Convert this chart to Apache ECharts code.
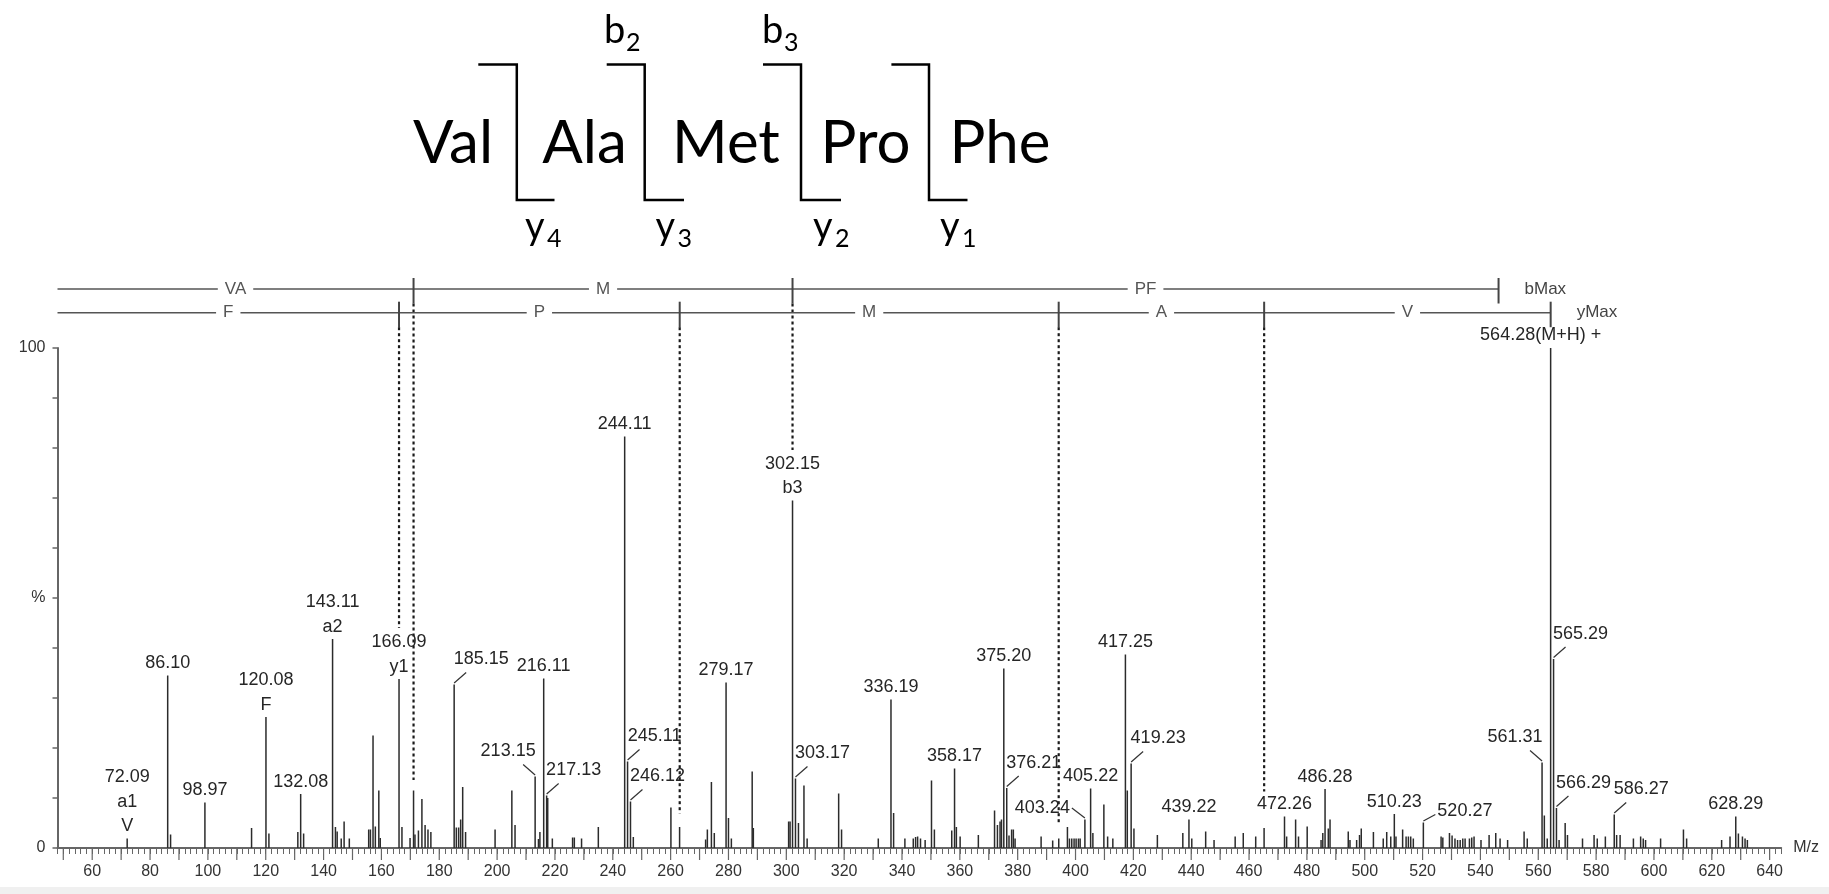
<!DOCTYPE html>
<html><head><meta charset="utf-8">
<script src="https://cdn.jsdelivr.net/npm/echarts@6/dist/echarts.min.js"></script>
<style>html,body{margin:0;padding:0;background:#fff}#c{width:1829px;height:894px}</style>
</head><body><div id="c"></div>
<script>
// ---------------- data ----------------
const peakMz = [
72.09, 86.10, 87.1, 98.97, 115.1, 120.08, 121.1, 131.1, 132.08, 133.1,
143.11, 144.1, 144.7, 146.1, 147.1, 148.9, 155.6, 156.2, 157.1, 157.9,
159.1, 159.6, 166.09, 167.1, 169.9, 171.11, 171.6, 172.8, 174.0, 175.1,
176.1, 177.1, 185.15, 185.9, 186.7, 187.4, 188.1, 189.1, 199.3, 205.1,
206.2, 213.15, 214.3, 214.8, 216.11, 217.13, 217.5, 219.1, 226.1, 226.7,
229.2, 235.0, 244.11, 245.11, 246.12, 247.1, 260.1, 263.1, 272.1, 272.7,
274.1, 275.1, 279.17, 280.0, 281.0, 288.2, 288.6, 300.8, 301.3, 302.15,
303.17, 304.2, 306.1, 307.2, 318.1, 319.1, 331.8, 336.19, 337.1, 341.0,
343.9, 344.7, 345.4, 346.4, 348.0, 350.2, 351.2, 357.2, 358.17, 358.8,
360.1, 366.4, 372.0, 373.0, 373.9, 374.4, 375.20, 376.21, 377.0, 377.9,
378.5, 379.1, 388.1, 392.1, 394.2, 397.2, 397.9, 398.7, 399.5, 400.2,
401.0, 401.6, 403.24, 405.22, 406.0, 409.8, 411.1, 412.9, 417.25, 417.9,
419.23, 420.2, 428.3, 437.1, 439.22, 440.2, 445.0, 447.9, 455.2, 458.0,
462.3, 465.2, 472.26, 473.0, 476.1, 477.1, 480.1, 484.9, 485.5, 486.28,
487.4, 488.0, 494.3, 494.9, 497.2, 498.2, 498.8, 503.0, 506.4, 507.6,
509.0, 510.23, 510.8, 513.1, 514.3, 515.1, 515.9, 516.8, 520.27, 526.4,
527.0, 529.3, 530.2, 531.2, 532.1, 533.0, 533.9, 534.7, 536.2, 537.0,
537.8, 540.2, 543.0, 545.3, 546.8, 549.4, 555.1, 556.2, 561.31, 562.1,
563.1, 564.28, 565.29, 566.29, 567.2, 569.3, 570.1, 575.3, 579.3, 580.4,
583.2, 586.27, 587.1, 588.3, 592.9, 595.4, 596.3, 597.1, 602.3, 610.2,
611.3, 623.4, 626.3, 628.29, 629.2, 630.6, 631.5, 632.3
];
const peakIntensity = [
1.9, 34.5, 2.7, 9.1, 4.0, 26.2, 2.9, 3.2, 10.8, 2.9,
41.8, 4.2, 3.3, 1.9, 5.3, 1.9, 3.7, 3.7, 22.5, 4.3,
11.5, 2.0, 33.8, 4.2, 2.0, 11.5, 2.7, 3.5, 9.8, 4.6,
3.7, 3.2, 32.7, 4.1, 4.1, 5.7, 12.2, 3.2, 3.7, 11.5,
4.6, 14.3, 1.8, 3.2, 33.9, 10.5, 10.0, 1.9, 2.1, 2.1,
1.9, 4.2, 82.3, 17.3, 9.3, 2.2, 8.1, 4.2, 1.7, 3.7,
13.2, 3.0, 33.1, 6.0, 1.9, 15.3, 4.0, 5.3, 5.3, 69.5,
13.9, 5.0, 12.5, 1.9, 10.9, 3.7, 1.9, 29.7, 7.0, 1.9,
1.9, 2.2, 2.3, 1.9, 1.6, 13.5, 3.7, 3.5, 15.9, 4.2,
2.3, 2.6, 7.5, 4.6, 5.3, 5.7, 35.9, 12.0, 2.5, 3.7,
3.7, 1.9, 2.3, 1.5, 1.9, 4.2, 1.9, 1.9, 1.9, 1.9,
1.9, 1.9, 5.7, 11.9, 3.0, 8.7, 2.3, 1.9, 38.7, 11.5,
16.9, 3.9, 2.6, 3.0, 5.7, 1.9, 3.3, 1.6, 2.3, 3.0,
2.3, 4.0, 6.3, 2.3, 5.7, 2.3, 4.3, 1.6, 3.0, 11.8,
3.9, 5.7, 3.3, 1.6, 1.6, 2.6, 3.9, 3.2, 1.9, 3.2,
2.3, 6.8, 2.3, 3.7, 2.3, 2.3, 2.3, 1.9, 5.1, 2.3,
2.1, 3.0, 2.5, 1.9, 1.6, 1.6, 1.9, 1.9, 1.9, 2.1,
2.3, 1.6, 2.6, 3.0, 1.9, 1.6, 3.3, 1.9, 17.1, 6.5,
1.9, 100, 37.8, 8.0, 1.6, 5.0, 2.6, 1.9, 2.6, 1.9,
2.3, 6.7, 2.6, 2.6, 1.9, 2.3, 1.9, 1.6, 1.9, 3.7,
1.9, 1.6, 2.3, 6.3, 2.9, 2.3, 1.9, 1.6
];
const labelMz = [72.09, 86.10, 98.97, 120.08, 132.08, 143.11, 166.09, 185.15, 213.15, 216.11,
  217.13, 244.11, 245.11, 246.12, 279.17, 302.15, 303.17, 336.19, 358.17, 375.20, 376.21,
  403.24, 405.22, 417.25, 419.23, 439.22, 472.26, 486.28, 510.23, 520.27, 561.31, 564.28,
  565.29, 566.29, 586.27, 628.29];
const labelText = ['72.09\na1\nV', '86.10', '98.97', '120.08\nF', '132.08', '143.11\na2', '166.09\ny1',
  '185.15', '213.15', '216.11', '217.13', '244.11', '245.11', '246.12', '279.17', '302.15\nb3',
  '303.17', '336.19', '358.17', '375.20', '376.21', '403.24', '405.22', '417.25', '419.23',
  '439.22', '472.26', '486.28', '510.23', '520.27', '561.31', '564.28(M+H) +', '565.29',
  '566.29', '586.27', '628.29'];
const bIonMz = [171.11, 302.15, 546.27];
const bLadderText = ['VA', 'M', 'PF'];
const yIonMz = [166.09, 263.14, 394.18, 465.22, 564.29];
const yLadderText = ['F', 'P', 'M', 'A', 'V'];
const xMajorTicks = [50,60,70,80,90,100,110,120,130,140,150,160,170,180,190,200,210,220,230,240,
  250,260,270,280,290,300,310,320,330,340,350,360,370,380,390,400,410,420,430,440,450,460,470,
  480,490,500,510,520,530,540,550,560,570,580,590,600,610,620,630,640];
const yTickValues = [0, 50, 100];
const yTickText = ['0', '%', '100'];
const sequence = ['Val', 'Ala', 'Met', 'Pro', 'Phe'];
const bFragNum = ['2', '3'];
const yFragNum = ['4', '3', '2', '1'];

// ---------------- layout / style ----------------
const FONT = '"Liberation Sans", Arial, sans-serif';
const TOPFONT = 'Lato, "Open Sans", sans-serif';
const layout = {
  xMin: 48, xMax: 644,
  bLevel: 111.8, yLevel: 107.06,
  tickUp: 11, tickDown: 14.5,
  bDashEnd: [13.6, 79.6, null],
  yDashEnd: [44, 6.9, 4.6, 11.3, null],
  wordCenters: [453, 584.5, 726, 865.5, 1000], wordBaseline: 163, wordSize: 60,
  brackets: [[478.3, 516.8, 554.5], [606.7, 644.7, 684], [763, 801, 841], [891.4, 929, 967.5]],
  bracketTop: 64.5, bracketBottom: 200,
  bLabelLeft: [604, 762], bBaseline: 43,
  yLabelLeft: [525, 655.6, 813, 940], yBaseline: 239,
  letterSize: 38, subSize: 25
};
const labelPlacement = {'185.15':'r','213.15':'l','217.13':'r','245.11':'r','246.12':'r','303.17':'r',
  '376.21':'r','403.24':'sl','419.23':'r','520.27':'sr','561.31':'l','565.29':'r','566.29':'r','586.27':'r',
  '564.28(M+H) +':'uL'};

const intensityOf = {};
peakMz.forEach((m, i) => { intensityOf[m.toFixed(2)] = peakIntensity[i]; });

const chart = echarts.init(document.getElementById('c'), null, {renderer: 'canvas'});

function peakRender(params, api) {
  const p0 = api.coord([api.value(0), 0]);
  const p1 = api.coord([api.value(0), api.value(1)]);
  return {type: 'line', shape: {x1: p0[0], y1: p0[1], x2: p1[0], y2: p1[1]},
    style: {stroke: '#2b2b2b', lineWidth: 1.5}};
}

function labelRender(params, api) {
  const i = params.dataIndex;
  const p = api.coord([api.value(0), api.value(1)]);
  const txt = labelText[i];
  const key = txt.split('\n')[0];
  const type = labelPlacement[key] || 'u';
  const children = [];
  let tx = p[0], ty = p[1], align = 'center';
  const lead = (x1, y1, x2, y2) => children.push({type: 'line',
    shape: {x1, y1, x2, y2}, style: {stroke: '#333', lineWidth: 1.2}});
  if (type === 'r') { tx = p[0] + 27; ty = p[1] - 13; lead(p[0], p[1] - 1.5, p[0] + 12, p[1] - 12); }
  else if (type === 'l') { tx = p[0] - 27; ty = p[1] - 13; lead(p[0], p[1] - 1.5, p[0] - 12, p[1] - 12); }
  else if (type === 'sl') { tx = p[0] - 15; ty = p[1] + 0.5; align = 'right'; lead(p[0] - 13, p[1] - 11.5, p[0], p[1] - 1.5); }
  else if (type === 'sr') { tx = p[0] + 14; ty = p[1] + 0.5; align = 'left'; lead(p[0], p[1] - 1.5, p[0] + 12, p[1] - 8); }
  else if (type === 'uL') { tx = p[0] - 10; ty = p[1] - 1; }
  children.push({type: 'text', style: {text: txt, x: tx, y: ty, align, verticalAlign: 'bottom',
    lineHeight: 24.5, fontSize: 18, fontFamily: FONT, fill: '#262626'}});
  return {type: 'group', children};
}

function ladderRender(params, api) {
  const which = api.value(2);
  const bounds = which === 0 ? bIonMz : yIonMz;
  const texts = which === 0 ? bLadderText : yLadderText;
  const dashEnd = which === 0 ? layout.bDashEnd : layout.yDashEnd;
  const level = api.value(1);
  const start = api.coord([api.value(0), level]);
  const yPx = start[1];
  const children = [];
  const endPx = api.coord([bounds[bounds.length - 1], level])[0];
  children.push({type: 'line', shape: {x1: start[0], y1: yPx, x2: endPx, y2: yPx},
    style: {stroke: '#555', lineWidth: 1.6}});
  bounds.forEach((b, k) => {
    const x = api.coord([b, level])[0];
    children.push({type: 'line', shape: {x1: x, y1: yPx - layout.tickUp, x2: x, y2: yPx + layout.tickDown},
      style: {stroke: '#444', lineWidth: 2}});
    if (dashEnd[k] != null) {
      const yEnd = api.coord([b, dashEnd[k]])[1];
      children.push({type: 'line', shape: {x1: x, y1: yPx + layout.tickDown, x2: x, y2: yEnd},
        style: {stroke: '#1a1a1a', lineWidth: 2.2, lineDash: [3, 3]}});
    }
  });
  const pts = [api.value(0)].concat(bounds);
  texts.forEach((t, k) => {
    const mid = api.coord([(pts[k] + pts[k + 1]) / 2, level])[0];
    children.push({type: 'text', style: {text: t, x: mid, y: yPx, align: 'center', verticalAlign: 'middle',
      fontSize: 17, fontFamily: FONT, fill: '#555', backgroundColor: '#fff', padding: [1, 7]}});
  });
  children.push({type: 'text', style: {text: which === 0 ? 'bMax' : 'yMax', x: endPx + 26, y: yPx,
    align: 'left', verticalAlign: 'middle', fontSize: 17, fontFamily: FONT, fill: '#444'}});
  return {type: 'group', children};
}

function majorTickRender(params, api) {
  const p = api.coord([api.value(0), 0]);
  return {type: 'line', shape: {x1: p[0], y1: p[1], x2: p[0], y2: p[1] + 12},
    style: {stroke: '#666', lineWidth: 1.2}};
}

// top diagram graphics
const graphics = [];
sequence.forEach((w, i) => {
  graphics.push({type: 'text', x: layout.wordCenters[i], y: layout.wordBaseline - 0.32 * layout.wordSize,
    style: {text: w, align: 'center', verticalAlign: 'middle', fontSize: layout.wordSize,
      fontFamily: TOPFONT, fill: '#000'}});
});
layout.brackets.forEach(br => {
  graphics.push({type: 'polyline', shape: {points: [[br[0], layout.bracketTop], [br[1], layout.bracketTop],
    [br[1], layout.bracketBottom], [br[2], layout.bracketBottom]]},
    style: {stroke: '#000', lineWidth: 2.5, fill: null}});
});
function fragLabel(letter, num, left, baseline) {
  graphics.push({type: 'text', x: left, y: baseline - 0.32 * layout.letterSize,
    style: {text: letter, align: 'left', verticalAlign: 'middle', fontSize: layout.letterSize, fontFamily: TOPFONT, fill: '#000'}});
  graphics.push({type: 'text', x: left + 22, y: baseline + 8 - 0.32 * layout.subSize,
    style: {text: num, align: 'left', verticalAlign: 'middle', fontSize: layout.subSize, fontFamily: TOPFONT, fill: '#000'}});
}
bFragNum.forEach((n, i) => fragLabel('b', n, layout.bLabelLeft[i], layout.bBaseline));
yFragNum.forEach((n, i) => fragLabel('y', n, layout.yLabelLeft[i], layout.yBaseline));
graphics.push({type: 'rect', shape: {x: 0, y: 887, width: 1829, height: 7}, style: {fill: '#f0f0f0'}});

const option = {
  animation: false,
  backgroundColor: '#fff',
  grid: {left: 57.5, right: 47.8, top: 348, bottom: 46, containLabel: false},
  xAxis: {
    type: 'value', min: layout.xMin, max: layout.xMax, interval: 2,
    axisLine: {onZero: false, lineStyle: {color: '#666', width: 2}},
    axisTick: {length: 6, lineStyle: {color: '#666', width: 1}},
    splitLine: {show: false},
    axisLabel: {margin: 16, fontSize: 16, fontFamily: FONT, color: '#333',
      formatter: v => { const r = Math.round(v); return (Math.abs(v - r) < 1e-6 && r % 20 === 0) ? String(r) : ''; }},
    name: 'M/z', nameLocation: 'end', nameGap: 12,
    nameTextStyle: {fontSize: 16, fontFamily: FONT, color: '#333'}
  },
  yAxis: {
    type: 'value', min: 0, max: 100, interval: 10,
    axisLine: {show: true, lineStyle: {color: '#666', width: 2}},
    axisTick: {show: true, length: 5, lineStyle: {color: '#666', width: 1.5}},
    splitLine: {show: false},
    axisLabel: {margin: 12, fontSize: 16, fontFamily: FONT, color: '#333',
      formatter: v => { const k = yTickValues.indexOf(Math.round(v)); return k >= 0 ? yTickText[k] : ''; }}
  },
  graphic: graphics,
  series: [
    {type: 'custom', name: 'peaks', silent: true, renderItem: peakRender, encode: {x: 0, y: 1},
      data: peakMz.map((m, i) => [m, peakIntensity[i]])},
    {type: 'custom', name: 'majorTicks', silent: true, renderItem: majorTickRender, encode: {x: 0, y: 1},
      data: xMajorTicks.map(v => [v, 0])},
    {type: 'custom', name: 'ladder', silent: true, clip: false, renderItem: ladderRender, encode: {x: 0, y: 1},
      data: [[layout.xMin, layout.bLevel, 0], [layout.xMin, layout.yLevel, 1]]},
    {type: 'custom', name: 'labels', silent: true, clip: false, renderItem: labelRender, encode: {x: 0, y: 1},
      data: labelMz.map(m => [m, intensityOf[m.toFixed(2)]])}
  ]
};
chart.setOption(option);
</script></body></html>
